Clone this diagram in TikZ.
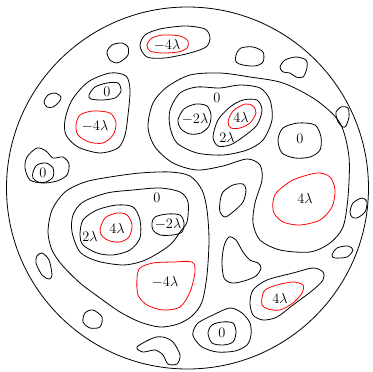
\documentclass[tikz,border=0pt]{standalone}
\definecolor{cr}{HTML}{FF0000}

\begin{document}
\begin{tikzpicture}[x=1pt,y=-1pt,font=\fontsize{15}{17}\selectfont,
  ct/.style={draw=black,line width=0.8pt},
  rc/.style={draw=cr,line width=0.8pt},
  lb/.style={inner sep=0pt}]
\useasboundingbox (0,0) rectangle (373,372);
\draw[ct] (187.5,188) circle[radius=181];
% top group
\draw[ct] plot[smooth cycle] coordinates {(148,127) (153,103) (167,87) (190,75) (220,73) (250,77) (283,83) (316,100) (340,123) (349,157) (348,197) (343,227) (330,243) (310,252) (280,250) (260,240) (253,223) (255,203) (262,180) (260,165) (247,159) (223,166) (197,170) (173,163) (155,147)};
\draw[ct] plot[smooth cycle] coordinates {(170,110) (180,93) (197,87) (220,88) (240,85) (260,88) (270,100) (272,120) (263,140) (247,150) (223,155) (197,153) (177,143) (170,127)};
\draw[ct] plot[smooth cycle] coordinates {(178,120) (184,109) (196,104) (207,106) (211,115) (209,126) (201,133) (190,134) (181,129)};
\draw[ct] plot[smooth cycle] coordinates {(213,137) (218,120) (230,107) (243,100) (257,100) (262,110) (257,125) (243,137) (230,145) (218,146)};
\draw[rc] plot[smooth cycle] coordinates {(228,122) (233,111) (245,104) (253,106) (256,113) (250,123) (240,128) (231,128)};
\draw[ct] plot[smooth cycle] coordinates {(278,140) (283,128) (298,123) (315,125) (321,137) (320,150) (310,157) (295,158) (282,153)};
\draw[rc] plot[smooth cycle] coordinates {(273,202) (277,192) (293,180) (317,173) (330,177) (335,190) (332,207) (320,220) (300,225) (283,222) (274,213)};
\node[lb] (z1) at (217,98) {$0$};
\node[lb] (m2a) at (195,119) {$-2\lambda$};
\node[lb] (p4a) at (241,117) {$4\lambda$};
\node[lb] (p2a) at (227,137) {$2\lambda$};
\node[lb] (z2) at (300,139) {$0$};
\node[lb] (p4b) at (305,198) {$4\lambda$};
% top and left
\draw[ct] plot[smooth cycle] coordinates {(140,46) (145,35) (160,29) (185,26) (205,29) (210,38) (206,47) (190,53) (165,58) (147,57)};
\draw[rc] plot[smooth cycle] coordinates {(147,45) (152,38) (163,35) (180,36) (188,41) (187,48) (178,52) (162,53) (150,51)};
\node[lb] (m4a) at (167,45) {$-4\lambda$};
\draw[ct] plot[smooth cycle] coordinates {(65,120) (72,100) (88,82) (110,73) (126,76) (130,90) (128,115) (125,135) (118,148) (100,153) (78,147) (66,135)};
\draw[ct] plot[smooth cycle] coordinates {(89,95) (95,87) (107,83) (118,83) (121,91) (115,98) (102,100) (91,99)};
\draw[rc] plot[smooth cycle] coordinates {(76,125) (80,115) (93,111) (110,113) (116,123) (113,135) (103,143) (89,142) (78,135)};
\node[lb] (z3) at (107,92) {$0$};
\node[lb] (m4b) at (95,126) {$-4\lambda$};
\draw[ct] plot[smooth cycle] coordinates {(25,168) (27,157) (37,148) (46,151) (53,158) (63,157) (69,164) (67,175) (57,181) (43,183) (30,180)};
\draw[ct] plot[smooth cycle] coordinates {(33,172) (37,165) (46,163) (53,168) (53,177) (46,182) (38,182) (33,178)};
\node[lb] (z4) at (43,173) {$0$};
% small islands
\draw[ct] plot[smooth cycle] coordinates {(107,52) (112,45) (122,43) (128,47) (128,55) (123,60) (117,63) (110,60)};
\draw[ct] plot[smooth cycle] coordinates {(44,102) (48,95) (55,93) (61,97) (59,102) (53,107) (47,107)};
\draw[ct] plot[smooth cycle] coordinates {(236,55) (241,48) (253,47) (263,52) (263,62) (255,66) (243,65) (236,62)};
\draw[ct] plot[smooth cycle] coordinates {(280,67) (285,60) (296,57) (306,60) (307,68) (303,77) (296,77) (290,73) (283,72)};
\draw[ct] plot[smooth cycle] coordinates {(336,112) (341,107) (348,108) (349,117) (346,126) (343,127) (338,122) (336,115)};
\draw[ct] plot[smooth cycle] coordinates {(350,212) (353,203) (362,198) (367,202) (365,212) (357,218) (352,217)};
\draw[ct] plot[smooth cycle] coordinates {(332,255) (337,248) (348,246) (353,250) (347,257) (335,258)};
\draw[ct] plot[smooth cycle] coordinates {(220,202) (223,192) (233,185) (243,184) (246,190) (243,202) (233,212) (225,217) (220,212)};
\draw[ct] plot[smooth cycle] coordinates {(224,246) (229,237) (236,240) (243,252) (250,260) (258,263) (261,268) (256,276) (244,281) (232,283) (224,278) (222,262)};
\draw[ct] plot[smooth cycle] coordinates {(85,313) (93,310) (102,317) (100,327) (90,328) (83,322)};
\draw[ct] plot[smooth cycle] coordinates {(37,256) (42,253) (49,260) (52,275) (49,279) (42,275) (36,263)};
\draw[ct] plot[smooth cycle] coordinates {(137,347) (153,338) (163,337) (173,342) (180,355) (177,364) (168,364) (163,355) (155,350) (143,352)};
% lower left group
\draw[ct] plot[smooth cycle] coordinates {(48,232) (52,250) (62,265) (80,283) (100,298) (120,312) (140,322) (160,327) (178,324) (192,316) (202,302) (207,275) (209,240) (207,210) (202,190) (190,176) (170,172) (140,173) (110,177) (85,182) (65,192) (52,210)};
\draw[ct] plot[smooth cycle] coordinates {(72,232) (73,215) (83,202) (107,193) (133,190) (160,188) (180,192) (188,202) (187,222) (180,232) (172,243) (160,252) (143,261) (123,265) (97,261) (80,252)};
\draw[ct] plot[smooth cycle] coordinates {(80,235) (83,220) (97,210) (117,205) (133,207) (140,220) (140,238) (130,250) (113,255) (97,253) (83,245)};
\draw[rc] plot[smooth cycle] coordinates {(100,230) (105,218) (117,213) (127,215) (132,225) (129,237) (120,242) (110,241) (103,237)};
\draw[ct] plot[smooth cycle] coordinates {(152,223) (155,217) (167,214) (180,215) (184,223) (182,232) (173,235) (160,235) (153,230)};
\draw[rc] plot[smooth cycle] coordinates {(137,278) (140,268) (153,263) (173,262) (192,262) (195,272) (190,292) (180,307) (163,310) (147,305) (138,295)};
\node[lb] (z5) at (157,198) {$0$};
\node[lb] (m2b) at (168,224) {$-2\lambda$};
\node[lb] (p4c) at (117,228) {$4\lambda$};
\node[lb] (p2b) at (90,236) {$2\lambda$};
\node[lb] (m4c) at (165,282) {$-4\lambda$};
% lower right
\draw[ct] plot[smooth cycle] coordinates {(250,303) (253,290) (267,280) (293,273) (313,268) (323,272) (323,280) (313,290) (293,305) (277,317) (263,320) (253,315)};
\draw[rc] plot[smooth cycle] coordinates {(262,298) (265,290) (277,285) (293,282) (303,285) (302,293) (293,303) (280,310) (268,309) (262,305)};
\node[lb] (p4d) at (280,298) {$4\lambda$};
\draw[ct] plot[smooth cycle] coordinates {(193,332) (198,323) (213,315) (230,308) (242,313) (250,323) (251,335) (247,345) (235,351) (217,352) (202,347) (194,338)};
\draw[ct] plot[smooth cycle] coordinates {(208,333) (212,325) (222,322) (233,323) (236,332) (233,342) (223,345) (212,343)};
\node[lb] (z6) at (222,333) {$0$};
\end{tikzpicture}
\end{document}
